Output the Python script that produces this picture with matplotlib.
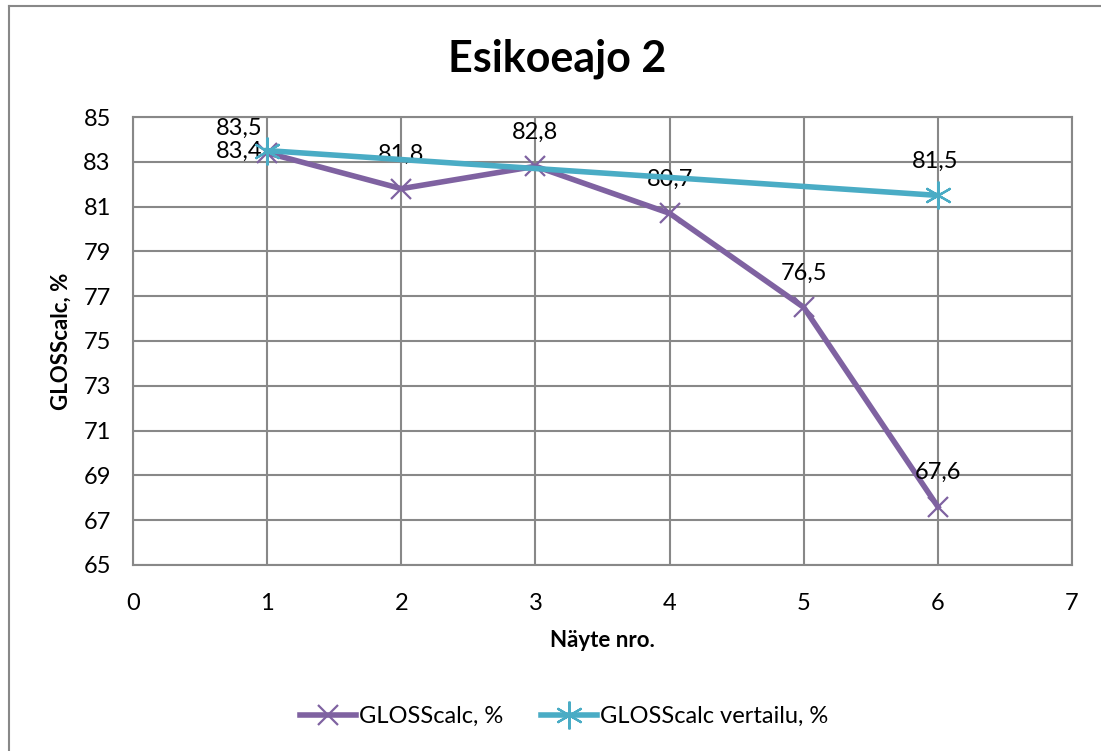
import matplotlib.pyplot as plt
from matplotlib.lines import Line2D

plt.rcParams['font.family'] = ['Lato', 'DejaVu Sans']

# sample numbers and measured gloss
samples = [1, 2, 3, 4, 5, 6]
gloss = [83.4, 81.8, 82.8, 80.7, 76.5, 67.6]
ref_samples = [1, 6]
gloss_ref = [83.5, 81.5]

purple = '#7F62A1'
teal = '#4AACC5'
grid_c = '#888888'

fig = plt.figure(figsize=(11.01, 7.51), dpi=100)
ax = fig.add_axes([0.1208, 0.2477, 0.8529, 0.5965])

# chart frame, only left and top edges fall inside the image
x0, y0 = 8.5 / 1101, 1 - 5.5 / 751
fig.lines.append(Line2D([x0, x0], [0, y0], transform=fig.transFigure,
                        color=grid_c, lw=1.5))
fig.lines.append(Line2D([x0, 1], [y0, y0], transform=fig.transFigure,
                        color=grid_c, lw=1.5))

ax.plot(samples, gloss, color=purple, lw=4, marker='x', ms=15,
        mew=1.6, zorder=3, label='GLOSScalc, %')
ax.plot(ref_samples, gloss_ref, color=teal, lw=4, marker=(6, 2, 0), ms=20,
        mew=1.6, zorder=4, label='GLOSScalc vertailu, %')

fs = 17
fmt = lambda v: f'{v:.1f}'.replace('.', ',')
for x, y in zip(samples, gloss):
    if x == 1:
        ax.annotate(fmt(y), (x, y), xytext=(-20, 1), textcoords='offset points',
                    ha='center', va='center', fontsize=fs)
    else:
        ax.annotate(fmt(y), (x, y), xytext=(0, 17), textcoords='offset points',
                    ha='center', va='bottom', fontsize=fs)
ax.annotate(fmt(gloss_ref[0]), (ref_samples[0], gloss_ref[0]), xytext=(-20, 16),
            textcoords='offset points', ha='center', va='center', fontsize=fs)
ax.annotate(fmt(gloss_ref[1]), (ref_samples[1], gloss_ref[1]), xytext=(-2, 17),
            textcoords='offset points', ha='center', va='bottom', fontsize=fs)

ax.set_xlim(0, 7)
ax.set_ylim(65, 85)
ax.set_xticks(range(0, 8))
ax.set_yticks(range(65, 86, 2))
ax.grid(True, color=grid_c, lw=1.5)
ax.set_axisbelow(True)
for s in ax.spines.values():
    s.set_color(grid_c)
    s.set_linewidth(1.5)
ax.tick_params(length=0, labelsize=fs)
ax.tick_params(axis='x', pad=20)
ax.tick_params(axis='y', pad=16)

ax.set_xlabel('Näyte nro.', fontsize=16, fontweight='bold', labelpad=12)
ax.set_ylabel('GLOSScalc, %', fontsize=16, fontweight='bold', labelpad=8)

fig.text(0.506, 0.922, 'Esikoeajo 2', ha='center', va='center',
         fontsize=31, fontweight='bold')

fig.legend(loc='center', bbox_to_anchor=(0.512, 0.046), ncol=2, frameon=False,
           fontsize=fs, handlelength=2.4, columnspacing=1.6, handletextpad=0.1)

fig.savefig('out.png', dpi=100)
